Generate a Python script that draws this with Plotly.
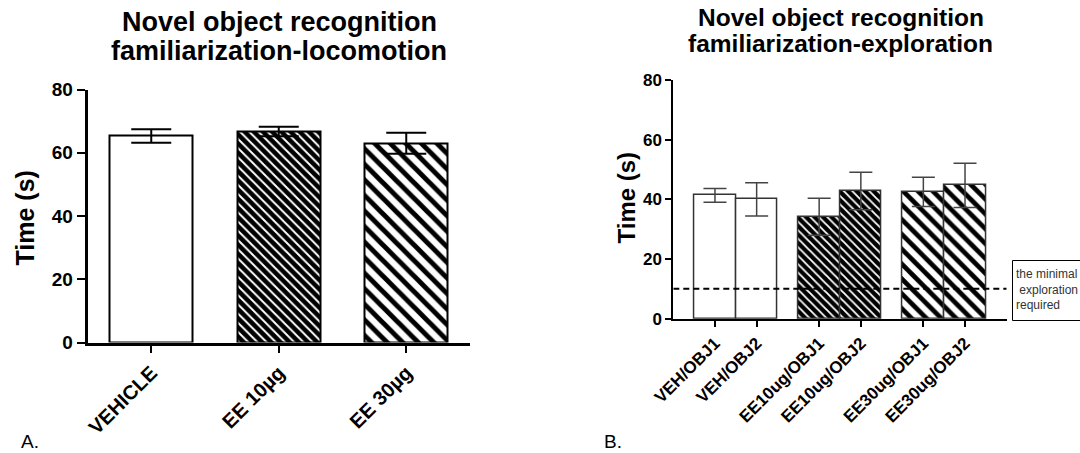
import plotly.graph_objects as go

# Panel A: locomotion during familiarization (mean ± SEM)
groups_a = ["VEHICLE", "EE 10µg", "EE 30µg"]
mean_a = [65.3, 66.7, 63.0]
sem_a = [2.1, 1.5, 3.3]

# Panel B: exploration time per object (mean ± SEM)
groups_b = ["VEH/OBJ1", "VEH/OBJ2", "EE10ug/OBJ1", "EE10ug/OBJ2", "EE30ug/OBJ1", "EE30ug/OBJ2"]
mean_b = [41.3, 40.0, 34.2, 42.8, 42.5, 44.7]
sem_b = [2.3, 5.6, 6.2, 6.3, 4.9, 7.4]
min_exploration = 10

y_ticks = [0, 20, 40, 60, 80]

W, H = 1080, 453
FONT = "Liberation Sans, Arial, sans-serif"


def px_x(v):
    return v / W


def px_y(v):
    return 1 - v / H


# fill styles per treatment: plain, dense hatch, wide hatch
style_shape = ["", "\\", "\\"]
style_fg = ["black", "white", "black"]
style_bg = ["white", "black", "white"]
style_size_a = [8, 6.5, 11]
style_size_b = [8, 6, 10.5]
style_solid_a = [0.3, 0.3, 0.45]
style_solid_b = [0.3, 0.3, 0.45]

fig = go.Figure()

fig.add_trace(go.Bar(
    x=list(range(len(groups_a))), y=mean_a, width=0.65,
    marker=dict(
        color="white",
        line=dict(color="black", width=2),
        pattern=dict(shape=style_shape, fgcolor=style_fg, bgcolor=style_bg,
                     size=style_size_a, solidity=style_solid_a, fillmode="replace"),
    ),
    error_y=dict(type="data", array=sem_a, visible=True, color="black",
                 thickness=2, width=20),
    xaxis="x", yaxis="y", showlegend=False,
))

group_of_b = [i // 2 for i in range(len(groups_b))]
pos_b = [g * 2.5 + (i % 2) for i, g in enumerate(group_of_b)]

fig.add_trace(go.Bar(
    x=pos_b, y=mean_b, width=1.0,
    marker=dict(
        color="white",
        line=dict(color="#333333", width=1.5),
        pattern=dict(shape=[style_shape[g] for g in group_of_b],
                     fgcolor=[style_fg[g] for g in group_of_b],
                     bgcolor=[style_bg[g] for g in group_of_b],
                     size=[style_size_b[g] for g in group_of_b],
                     solidity=[style_solid_b[g] for g in group_of_b],
                     fillmode="replace"),
    ),
    error_y=dict(type="data", array=sem_b, visible=True, color="#444444",
                 thickness=1.5, width=11.5),
    xaxis="x2", yaxis="y2", showlegend=False,
))

axis_common = dict(showgrid=False, zeroline=False, showline=True, linecolor="black",
                   ticks="outside", tickcolor="black", automargin=False)

fig.update_layout(
    template="none",
    width=W, height=H,
    margin=dict(l=0, r=0, t=0, b=0, pad=0),
    paper_bgcolor="white", plot_bgcolor="white",
    font=dict(family=FONT, color="black"),
    bargap=0,
    xaxis=dict(axis_common, domain=[px_x(87.5), px_x(470)], range=[-0.5, 2.5],
               tickvals=list(range(len(groups_a))), ticktext=groups_a,
               tickangle=-45, ticklen=8, tickwidth=2, linewidth=2.5,
               tickfont=dict(size=20, weight="bold", family=FONT), anchor="y"),
    yaxis=dict(axis_common, domain=[px_y(342.5), px_y(89.5)], range=[0, 80],
               tickvals=y_ticks, ticklen=8, tickwidth=2, linewidth=2.5,
               tickfont=dict(size=19, weight="bold", family=FONT), anchor="x"),
    xaxis2=dict(axis_common, domain=[px_x(673.3), px_x(1006.7)], range=[-1, 7],
                tickvals=pos_b, ticktext=groups_b,
                tickangle=-45, ticklen=6, tickwidth=2, linewidth=2,
                tickfont=dict(size=17, weight="bold", family=FONT), anchor="y2"),
    yaxis2=dict(axis_common, domain=[px_y(318.7), px_y(80)], range=[0, 80],
                tickvals=y_ticks, ticklen=6, tickwidth=2, linewidth=2,
                tickfont=dict(size=17, weight="bold", family=FONT), anchor="x2"),
)

# minimum exploration threshold
fig.add_shape(type="line", xref="x2", yref="y2", x0=-1, x1=7,
              y0=min_exploration, y1=min_exploration,
              line=dict(color="black", width=2, dash="6px,4px"))
fig.add_shape(type="rect", xref="paper", yref="paper",
              x0=px_x(1012.5), x1=px_x(1100), y0=px_y(320.5), y1=px_y(260.5),
              line=dict(color="black", width=1), fillcolor="rgba(0,0,0,0)")
fig.add_annotation(xref="paper", yref="paper", x=px_x(1014), y=px_y(289),
                   xanchor="left", yanchor="middle", align="left", showarrow=False,
                   text="the minimal<br> exploration<br>required",
                   font=dict(size=12, color="#333333", family=FONT))


def label(text, x, y, size, bold=True, angle=0, xanchor="center"):
    fig.add_annotation(xref="paper", yref="paper", x=px_x(x), y=px_y(y),
                       xanchor=xanchor, yanchor="middle", showarrow=False,
                       text=text, textangle=angle, borderpad=0,
                       font=dict(size=size, family=FONT, color="black",
                                 weight="bold" if bold else "normal"))


# titles
label("Novel object recognition", 279, 22, 27)
label("familiarization-locomotion", 279, 51, 27)
label("Novel object recognition", 840.5, 18, 24.5)
label("familiarization-exploration", 840.5, 43.5, 24.5)

# y-axis titles
label("Time (s)", 24.5, 218, 25, angle=-90)
label("Time (s)", 625.5, 198, 24, angle=-90)

# panel letters
label("A.", 20, 441, 19, bold=False, xanchor="left")
label("B.", 603, 441, 19, bold=False, xanchor="left")

fig.write_html("out.html")
